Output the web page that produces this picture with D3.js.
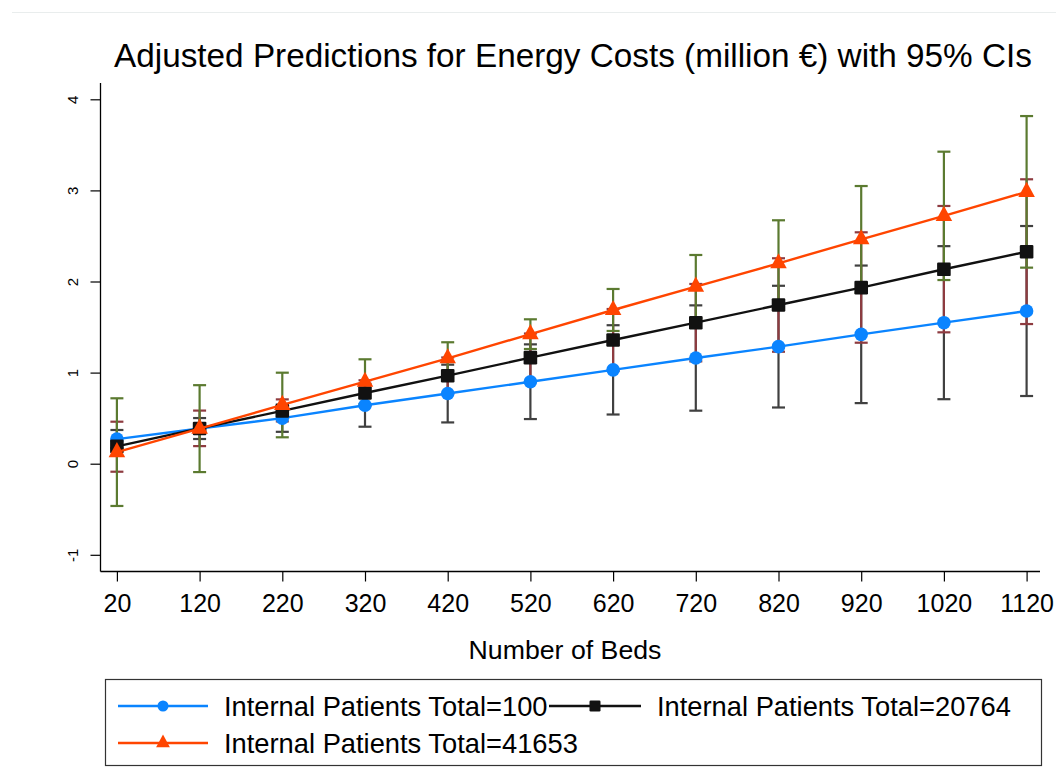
<!DOCTYPE html>
<html>
<head>
<meta charset="utf-8">
<script src="https://cdn.jsdelivr.net/npm/d3@7"></script>
<style>
html,body{margin:0;padding:0;background:#fff;}
svg{display:block;}
text{font-family:"Liberation Sans",Arial,Helvetica,sans-serif;fill:#000;}
</style>
</head>
<body>
<svg id="chart" width="1056" height="771"></svg>
<script>
// ---- data ----
const beds = [20,120,220,320,420,520,620,720,820,920,1020,1120];
const xTicks = [20,120,220,320,420,520,620,720,820,920,1020,1120];
const yTicks = [-1,0,1,2,3,4];
const seriesNames = ["Internal Patients Total=100","Internal Patients Total=20764","Internal Patients Total=41653"];

const pred100   = [0.27,0.386,0.50,0.642,0.77,0.90,1.03,1.16,1.285,1.42,1.548,1.676];
const low100    = [0.17,0.271,0.35,0.406,0.453,0.49,0.54,0.582,0.617,0.665,0.708,0.743];
const high100   = [0.37,0.501,0.65,0.877,1.087,1.31,1.52,1.738,1.953,2.175,2.388,2.609];

const pred20764 = [0.19,0.387,0.58,0.776,0.966,1.164,1.358,1.548,1.742,1.933,2.134,2.327];
const low20764  = [-0.088,0.193,0.464,0.636,0.766,0.899,1.018,1.123,1.229,1.328,1.442,1.533];
const high20764 = [0.461,0.583,0.706,0.916,1.166,1.429,1.698,1.973,2.255,2.540,2.829,3.122];

const pred41653 = [0.127,0.385,0.645,0.90,1.157,1.422,1.687,1.943,2.2,2.463,2.72,2.984];
const low41653  = [-0.464,-0.092,0.29,0.654,0.98,1.259,1.457,1.595,1.73,1.878,2.016,2.152];
const high41653 = [0.718,0.862,0.999,1.146,1.333,1.585,1.918,2.291,2.672,3.048,3.425,3.816];

// ---- build ----
const series = [
  {name:seriesNames[0], pred:pred100,   low:low100,   high:high100,   color:"#0a84ff", ci:"#404040", marker:"circle"},
  {name:seriesNames[1], pred:pred20764, low:low20764, high:high20764, color:"#111111", ci:"#8e3b40", marker:"square"},
  {name:seriesNames[2], pred:pred41653, low:low41653, high:high41653, color:"#ff4500", ci:"#5b7a30", marker:"triangle"}
];

const svg = d3.select("#chart");
const x = d3.scaleLinear().domain([20,1120]).range([116.9,1026.6]);
const y = d3.scaleLinear().domain([-1,4]).range([554.8,99.3]);

// faint top border line
svg.append("line").attr("x1",12).attr("x2",1056).attr("y1",12.5).attr("y2",12.5)
  .attr("stroke","#e9eded").attr("stroke-width",1);

// title
svg.append("text").attr("x",573).attr("y",67).attr("text-anchor","middle")
  .style("font-size","33.3px").text("Adjusted Predictions for Energy Costs (million \u20AC) with 95% CIs");

// axes
const plotLeft = 100.5, plotRight = 1040, plotTop = 83, plotBottom = 571.5;
svg.append("line").attr("x1",plotLeft).attr("x2",plotLeft).attr("y1",plotTop).attr("y2",plotBottom)
  .attr("stroke","#000").attr("stroke-width",1.3);
svg.append("line").attr("x1",plotLeft).attr("x2",plotRight).attr("y1",plotBottom).attr("y2",plotBottom)
  .attr("stroke","#000").attr("stroke-width",1.3);

const yAxis = d3.axisLeft(y).tickValues(yTicks).tickSize(10).tickPadding(0).tickFormat(d => String(d));
const gy = svg.append("g").attr("transform",`translate(${plotLeft},0)`).call(yAxis);
gy.select(".domain").remove();
gy.selectAll(".tick line").attr("stroke","#000").attr("stroke-width",1.2);
gy.selectAll(".tick text").attr("x",0).attr("dy",0)
  .attr("transform","translate(-23,0) rotate(-90)")
  .attr("text-anchor","middle").attr("dominant-baseline","auto")
  .style("font-size","15px").attr("y",0);

const xAxis = d3.axisBottom(x).tickValues(xTicks).tickSize(10).tickPadding(0).tickFormat(d => String(d));
const gx = svg.append("g").attr("transform",`translate(0,${plotBottom})`).call(xAxis);
gx.select(".domain").remove();
gx.selectAll(".tick line").attr("stroke","#000").attr("stroke-width",1.2);
gx.selectAll(".tick text").attr("dy",0).attr("y",40.5).style("font-size","25px");

svg.append("text").attr("x",565).attr("y",659).attr("text-anchor","middle")
  .style("font-size","26.7px").text("Number of Beds");

// CIs
const capW = 6.5;
series.forEach(s=>{
  const g = svg.append("g");
  beds.forEach((b,i)=>{
    const cx = x(b), y1 = y(s.low[i]), y2 = y(s.high[i]);
    g.append("line").attr("x1",cx).attr("x2",cx).attr("y1",y1).attr("y2",y2).attr("stroke",s.ci).attr("stroke-width",2.2);
    g.append("line").attr("x1",cx-capW).attr("x2",cx+capW).attr("y1",y1).attr("y2",y1).attr("stroke",s.ci).attr("stroke-width",2.2);
    g.append("line").attr("x1",cx-capW).attr("x2",cx+capW).attr("y1",y2).attr("y2",y2).attr("stroke",s.ci).attr("stroke-width",2.2);
  });
});

function drawMarker(g, type, cx, cy, size, color){
  if(type==="circle"){
    g.append("circle").attr("cx",cx).attr("cy",cy).attr("r",size).attr("fill",color);
  } else if(type==="square"){
    g.append("rect").attr("x",cx-size).attr("y",cy-size).attr("width",2*size).attr("height",2*size).attr("rx",1.2).attr("fill",color);
  } else {
    const h = size*2.1, w = size*2.3;
    const pts = [[cx,cy-h*2/3],[cx-w/2,cy+h/3],[cx+w/2,cy+h/3]];
    g.append("polygon").attr("points",pts.map(p=>p.join(",")).join(" ")).attr("fill",color);
  }
}

// lines + markers
const line = d3.line().x(d=>x(d[0])).y(d=>y(d[1]));
series.forEach(s=>{
  const g = svg.append("g");
  g.append("path").datum(beds.map((b,i)=>[b,s.pred[i]])).attr("d",line)
    .attr("fill","none").attr("stroke",s.color).attr("stroke-width",2.4);
  beds.forEach((b,i)=>drawMarker(g, s.marker, x(b), y(s.pred[i]), s.marker==="triangle"?7.2:6.8, s.color));
});

// legend
const lg = svg.append("g");
lg.append("rect").attr("x",105.5).attr("y",679.5).attr("width",936).attr("height",86)
  .attr("fill","none").attr("stroke","#333").attr("stroke-width",1.2);
const legendPos = [
  {lx1:118, lx2:208, ly:706, tx:224, ty:716},
  {lx1:549, lx2:641, ly:706, tx:657, ty:716},
  {lx1:118, lx2:208, ly:743, tx:224, ty:753}
];
series.forEach((s,i)=>{
  const p = legendPos[i];
  lg.append("line").attr("x1",p.lx1).attr("x2",p.lx2).attr("y1",p.ly).attr("y2",p.ly)
    .attr("stroke",s.color).attr("stroke-width",2.4);
  drawMarker(lg, s.marker, (p.lx1+p.lx2)/2, p.ly, s.marker==="circle"?5.5:(s.marker==="square"?5.5:6), s.color);
  lg.append("text").attr("x",p.tx).attr("y",p.ty).style("font-size","27.3px").text(s.name);
});
</script>
</body>
</html>
